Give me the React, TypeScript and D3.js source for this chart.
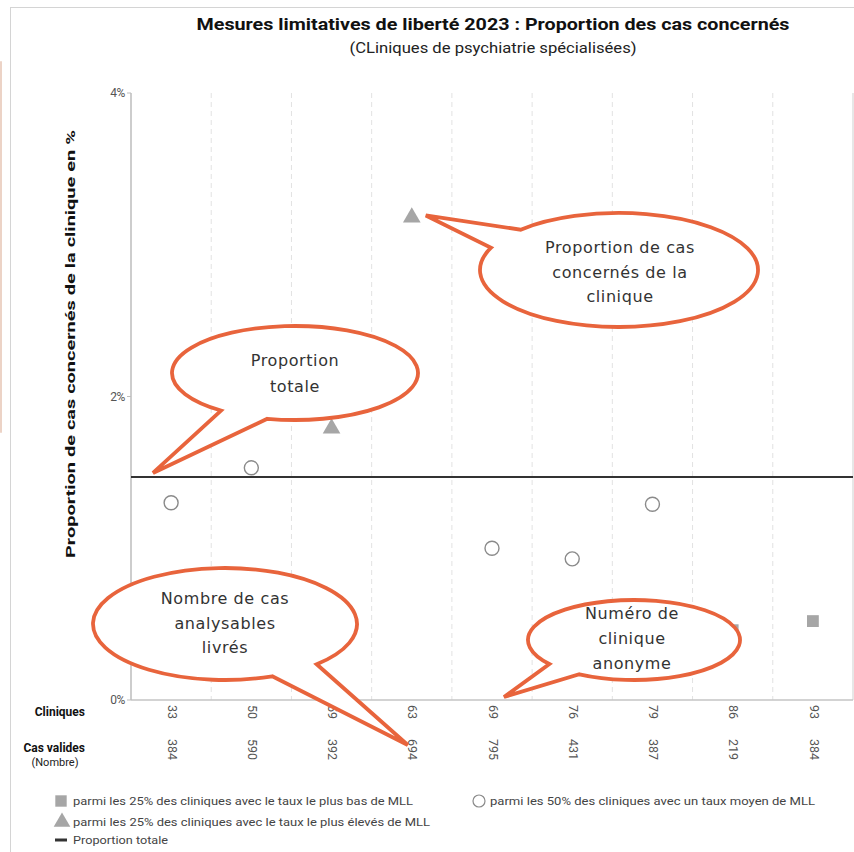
import React from "react";
import * as d3 from "d3";

const clinics = ["33", "50", "59", "63", "69", "76", "79", "86", "93"];
const casValides = [384, 590, 392, 694, 795, 431, 387, 219, 384];
const proportions = [1.3, 1.53, 1.79, 3.18, 1.0, 0.93, 1.29, 0.46, 0.52];
const groups = ["mid", "mid", "high", "high", "mid", "mid", "mid", "low", "low"];
const totalProportion = 1.47;
const yTicks = [0, 2, 4];

const legendItems = [
  { key: "low", label: "parmi les 25% des cliniques avec le taux le plus bas de MLL" },
  { key: "mid", label: "parmi les 50% des cliniques avec un taux moyen de MLL" },
  { key: "high", label: "parmi les 25% des cliniques avec le taux le plus élevés de MLL" },
  { key: "line", label: "Proportion totale" },
];

const W = 854;
const H = 852;
const M = { left: 131, right: 853, top: 93, bottom: 700 };
const ORANGE = "#E8643C";
const GRAY = "#A6A6A6";
const FONT = "Roboto, 'Open Sans', sans-serif";
const CFONT = "'DejaVu Sans', sans-serif";

function bubble(cx: number, cy: number, rx: number, ry: number, a1: number, a2: number, tip: [number, number]) {
  const r = (d: number) => (d * Math.PI) / 180;
  const A = [cx + rx * Math.cos(r(a2)), cy + ry * Math.sin(r(a2))];
  const B = [cx + rx * Math.cos(r(a1)), cy + ry * Math.sin(r(a1))];
  return `M${A[0]},${A[1]} A${rx},${ry} 0 1 1 ${B[0]},${B[1]} L${tip[0]},${tip[1]} Z`;
}

export default function App() {
  const x = d3.scaleBand<string>().domain(clinics).range([M.left, M.right]);
  const y = d3.scaleLinear().domain([0, 4]).range([M.bottom, M.top]);
  const bw = x.bandwidth();
  const cxOf = (c: string) => (x(c) as number) + bw / 2;
  const tri = d3.symbol().type(d3.symbolTriangle).size(135)();
  const sq = d3.symbol().type(d3.symbolSquare).size(140)();
  const triL = d3.symbol().type(d3.symbolTriangle).size(120)();
  const sqL = d3.symbol().type(d3.symbolSquare).size(130)();
  const yT = y(totalProportion);

  const callouts = [
    { cx: 619, cy: 270, rx: 139, ry: 57, a1: 203, a2: 225, tip: [cxOf("63") + 14, y(3.18) - 2] as [number, number],
      lines: ["Proportion de cas", "concernés de la", "clinique"], tx: 620, ty: [253, 278, 302] },
    { cx: 295, cy: 373, rx: 123, ry: 47, a1: 103, a2: 127, tip: [M.left + 22, yT - 4] as [number, number],
      lines: ["Proportion", "totale"], tx: 295, ty: [366, 392] },
    { cx: 225, cy: 624, rx: 132, ry: 56, a1: 46, a2: 69, tip: [cxOf("63") - 4, 745] as [number, number],
      lines: ["Nombre de cas", "analysables", "livrés"], tx: 225, ty: [604, 629, 653] },
    { cx: 634, cy: 640, rx: 106, ry: 40, a1: 121, a2: 143, tip: [cxOf("69") + 12, y(0) - 3] as [number, number],
      lines: ["Numéro de", "clinique", "anonyme"], tx: 632, ty: [619, 644, 669] },
  ];

  return (
    <svg width={W} height={H} style={{ position: "absolute", left: 0, top: 0, background: "#fff" }}>
      <rect x={0} y={0} width={W} height={H} fill="#fff" />
      {/* frame */}
      <line x1={10} x2={W} y1={7.5} y2={7.5} stroke="#d4d4d4" />
      <line x1={10.5} x2={10.5} y1={7} y2={H} stroke="#d4d4d4" />
      <line x1={1} x2={1} y1={62} y2={432} stroke="#ecd3c6" strokeWidth={2} strokeLinecap="round" />

      {/* titles */}
      <text x={493} y={30} textAnchor="middle" fontFamily={FONT} fontWeight="bold" fontSize={17} fill="#111"
        textLength={593} lengthAdjust="spacingAndGlyphs">
        Mesures limitatives de liberté 2023 : Proportion des cas concernés
      </text>
      <text x={493} y={53} textAnchor="middle" fontFamily={FONT} fontSize={14} fill="#222"
        textLength={287} lengthAdjust="spacingAndGlyphs">
        (CLiniques de psychiatrie spécialisées)
      </text>

      {/* grid */}
      {clinics.slice(1).map((c) => (
        <line key={c} x1={x(c)} x2={x(c)} y1={M.top} y2={M.bottom} stroke="#e2e2e2" strokeDasharray="5,4" />
      ))}
      <line x1={M.right} x2={M.right} y1={M.top} y2={M.bottom} stroke="#cfcfcf" />
      <line x1={M.left} x2={M.right} y1={M.bottom} y2={M.bottom} stroke="#c4c4c4" strokeWidth={1.5} />
      <line x1={M.left} x2={M.left} y1={M.top} y2={M.bottom} stroke="#bdbdbd" strokeWidth={1.5} />
      {yTicks.map((t) => (
        <g key={t}>
          <line x1={M.left - 4} x2={M.left} y1={y(t)} y2={y(t)} stroke="#bdbdbd" />
          <text x={M.left - 6} y={y(t) + 4} textAnchor="end" fontFamily={FONT} fontSize={12} fill="#555"
            letterSpacing={-0.4}>
            {t}%
          </text>
        </g>
      ))}

      {/* y title */}
      <text transform={`translate(75,${344}) rotate(-90)`} textAnchor="middle" fontFamily={FONT} fontWeight="bold"
        fontSize={12} fill="#111" textLength={428} lengthAdjust="spacingAndGlyphs">
        Proportion de cas concernés de la clinique en %
      </text>

      {/* total line */}
      <line x1={M.left} x2={M.right} y1={yT} y2={yT} stroke="#333" strokeWidth={2} />

      {/* markers */}
      {clinics.map((c, i) => {
        const cx = cxOf(c);
        const cy = y(proportions[i]);
        if (groups[i] === "mid")
          return <circle key={c} cx={cx} cy={cy} r={7} fill="#fff" stroke="#8a8a8a" strokeWidth={1.4} />;
        if (groups[i] === "high") return <path key={c} d={tri as string} transform={`translate(${cx},${cy})`} fill={GRAY} />;
        return <path key={c} d={sq as string} transform={`translate(${cx},${cy})`} fill={GRAY} />;
      })}

      {/* row labels */}
      <text x={85} y={716} textAnchor="end" fontFamily={FONT} fontWeight="bold" fontSize={12} fill="#111">Cliniques</text>
      <text x={85} y={752} textAnchor="end" fontFamily={FONT} fontWeight="bold" fontSize={12} fill="#111">Cas valides</text>
      <text x={55} y={766} textAnchor="middle" fontFamily={FONT} fontSize={11} fill="#222">(Nombre)</text>
      {clinics.map((c, i) => (
        <g key={c}>
          <text transform={`translate(${cxOf(c)},${705}) rotate(90)`} dominantBaseline="middle" fontFamily={FONT}
            fontSize={12.5} fill="#555">{c}</text>
          <text transform={`translate(${cxOf(c)},${739}) rotate(90)`} dominantBaseline="middle" fontFamily={FONT}
            fontSize={12.5} fill="#555">{casValides[i]}</text>
        </g>
      ))}

      {/* callouts */}
      {callouts.map((co, k) => (
        <g key={k}>
          <path d={bubble(co.cx, co.cy, co.rx, co.ry, co.a1, co.a2, co.tip)} fill="#fff" stroke={ORANGE}
            strokeWidth={3.8} strokeLinejoin="miter" />
          {co.lines.map((l, j) => (
            <text key={j} x={co.tx} y={co.ty[j]} textAnchor="middle" fontFamily={CFONT} fontSize={16}
              fill="#333" letterSpacing={0.6}>{l}</text>
          ))}
        </g>
      ))}

      {/* legend */}
      <path d={sqL as string} transform="translate(61,801)" fill={GRAY} />
      <text x={73} y={805} fontFamily={FONT} fontSize={11} fill="#444" textLength={340} lengthAdjust="spacingAndGlyphs">
        {legendItems[0].label}
      </text>
      <circle cx={479} cy={801} r={6} fill="#fff" stroke="#8a8a8a" strokeWidth={1.2} />
      <text x={490} y={805} fontFamily={FONT} fontSize={11} fill="#444" textLength={325} lengthAdjust="spacingAndGlyphs">
        {legendItems[1].label}
      </text>
      <path d={triL as string} transform="translate(62,822)" fill={GRAY} />
      <text x={73} y={826} fontFamily={FONT} fontSize={11} fill="#444" textLength={357} lengthAdjust="spacingAndGlyphs">
        {legendItems[2].label}
      </text>
      <line x1={55} x2={67} y1={840} y2={840} stroke="#333" strokeWidth={3} />
      <text x={73} y={844} fontFamily={FONT} fontSize={11} fill="#444" textLength={95} lengthAdjust="spacingAndGlyphs">
        {legendItems[3].label}
      </text>
    </svg>
  );
}
